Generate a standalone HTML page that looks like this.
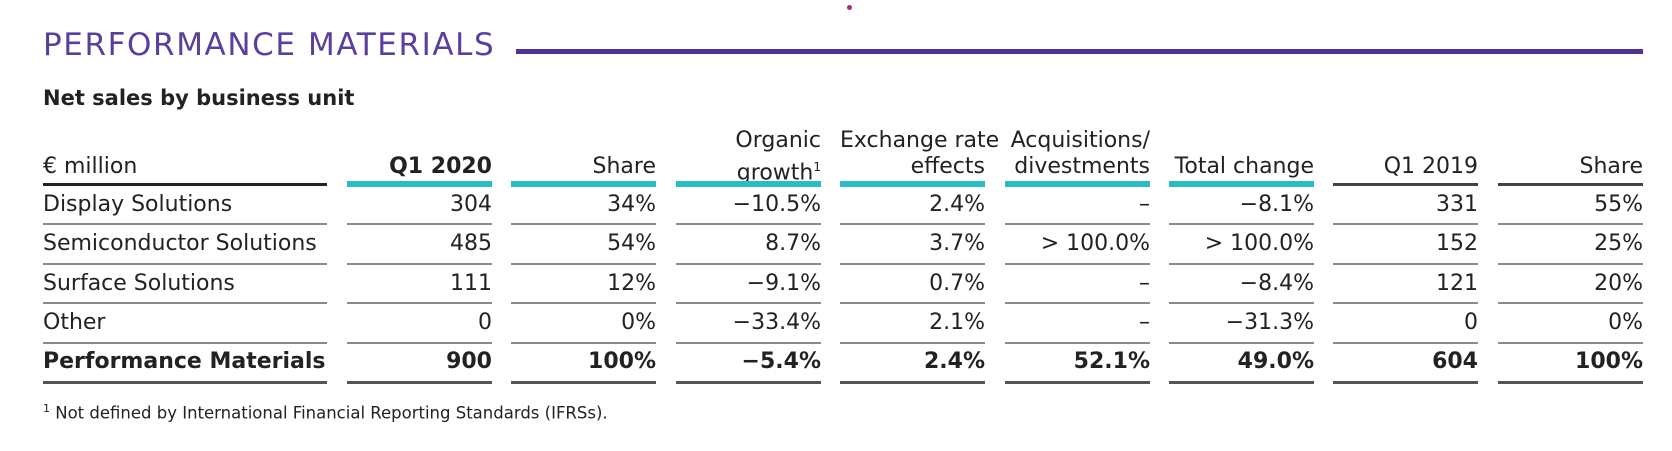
<!DOCTYPE html>
<html><head><meta charset="utf-8">
<style>
body{margin:0;width:1672px;height:451px;background:#fff;position:relative;overflow:hidden;font-family:"DejaVu Sans","Liberation Sans",sans-serif;color:#222}
.a{position:absolute;white-space:nowrap}
.t{font-size:22px;line-height:26px}
.r{text-align:right}
.b{font-weight:bold}
.ln{position:absolute;height:2px;background:#8a8a8a}
</style></head><body>
<div class="a" style="left:847px;top:5px;width:5px;height:5px;border-radius:50%;background:#a0307a"></div>
<div class="a" style="left:43px;top:27px;font-size:31px;letter-spacing:1.6px;color:#5b3f9c">PERFORMANCE MATERIALS</div>
<div class="a" style="left:516px;top:49px;width:1127px;height:5px;background:#4e3490"></div>
<div class="a b" style="left:43px;top:86px;font-size:21px">Net sales by business unit</div>
<div id="tbl"></div>
<div class="a" style="left:43px;top:402px;font-size:16.5px"><sup style="font-size:11px">1</sup> Not defined by International Financial Reporting Standards (IFRSs).</div>
<script>
const headers=[["","€ million"],["","Q1 2020"],["","Share"],["Organic","growth<sup style='font-size:12px'>1</sup>"],["Exchange rate","effects"],["Acquisitions/","divestments"],["","Total change"],["","Q1 2019"],["","Share"]];
const rowLabels=["Display Solutions","Semiconductor Solutions","Surface Solutions","Other","Performance Materials"];
const q12020=["304","485","111","0","900"];
const share2020=["34%","54%","12%","0%","100%"];
const organic=["−10.5%","8.7%","−9.1%","−33.4%","−5.4%"];
const fx=["2.4%","3.7%","0.7%","2.1%","2.4%"];
const acq=["–","> 100.0%","–","–","52.1%"];
const total=["−8.1%","> 100.0%","−8.4%","−31.3%","49.0%"];
const q12019=["331","152","121","0","604"];
const share2019=["55%","25%","20%","0%","100%"];
const cols=[rowLabels,q12020,share2020,organic,fx,acq,total,q12019,share2019];
const tbl=document.getElementById('tbl');
const colX=[[43,327]];
for(let i=0;i<8;i++){colX.push([Math.round(347+i*164.4),Math.round(492+i*164.4)]);}
const rowY=[192,231,271,310,349];
const lineY=[224,264,303,343,382];
const headStyle=['#222','#27bcc8','#27bcc8','#27bcc8','#27bcc8','#27bcc8','#27bcc8','#444','#444'];
const headH=[3,6,6,6,6,6,6,3,3];
colX.forEach((c,ci)=>{
  const w=c[1]-c[0];
  const h=document.createElement('div');
  h.className='a t'+(ci>0?' r':'')+(ci===1?' b':'');
  h.style.cssText+=`left:${c[0]}px;width:${w}px;top:${ci===0?154:128}px;`;
  h.innerHTML=ci===0?headers[ci][1]:(headers[ci][0]||'&nbsp;')+'<br>'+headers[ci][1];
  
  
  tbl.appendChild(h);
  const u=document.createElement('div');
  u.className='a';
  u.style.cssText=`left:${c[0]}px;width:${w}px;top:${184-headH[ci]/2}px;height:${headH[ci]}px;background:${headStyle[ci]}`;
  
  
  tbl.appendChild(u);
  cols[ci].forEach((v,ri)=>{
    const d=document.createElement('div');
    d.className='a t'+(ci>0?' r':'')+(ri===4?' b':'');
    d.style.cssText+=`left:${c[0]}px;width:${w}px;top:${rowY[ri]}px;`;
    d.textContent=v;
    
    
    tbl.appendChild(d);
    const l=document.createElement('div');
    l.className='ln';
    l.style.cssText=`left:${c[0]}px;width:${w}px;top:${lineY[ri]-1}px;`+(ri===4?'background:#555;height:3px':'');
    
    
    tbl.appendChild(l);
  });
});
</script>
</body></html>
